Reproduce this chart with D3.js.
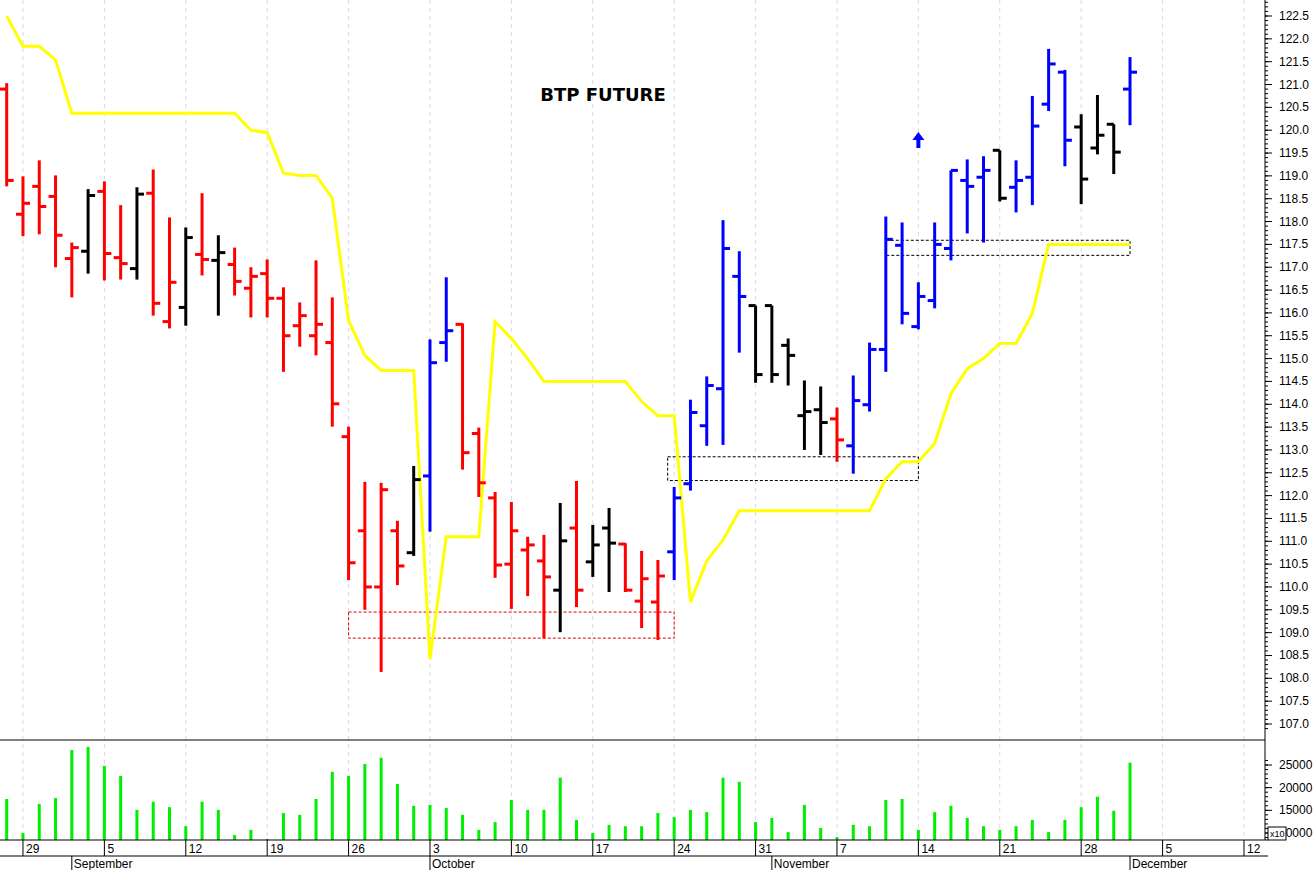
<!DOCTYPE html>
<html>
<head>
<meta charset="utf-8">
<script src="https://cdn.jsdelivr.net/npm/d3@7"></script>
<style>
  body { margin: 0; background: #fff; }
  svg { display: block; font-family: "Liberation Sans", Arial, sans-serif; }
</style>
</head>
<body>
<svg id="chart" width="1316" height="870"></svg>
<script>
// BTP future, daily bars 26 Aug - 1 Dec 2022
const opens  = [120.90,118.16,118.77,118.55,117.19,117.35,118.66,117.21,116.97,118.62,115.81,116.12,117.28,117.15,117.06,116.54,116.86,116.32,115.72,115.50,115.35,113.29,111.23,110.00,111.23,110.75,112.43,115.35,115.75,113.36,111.95,110.50,110.81,110.57,109.93,111.29,110.55,111.29,110.94,109.69,109.67,110.77,112.26,113.53,114.34,116.80,116.16,116.16,115.29,113.75,113.88,113.68,113.09,113.99,115.20,117.48,115.70,116.27,117.41,118.90,118.97,119.56,118.75,118.97,120.57,121.27,120.07,119.61,120.13,120.90];
const highs  = [121.03,118.99,119.34,119.01,117.54,118.71,118.88,118.36,118.75,119.14,118.09,117.87,118.62,117.70,117.43,117.00,117.17,116.56,116.23,117.15,116.34,113.51,112.30,112.28,111.45,112.65,115.42,116.78,115.77,113.49,112.08,111.86,111.10,111.14,111.84,112.32,111.36,111.73,110.96,110.79,110.59,112.19,114.10,114.61,118.03,117.35,116.16,116.16,115.44,114.52,114.39,113.93,114.63,115.35,118.11,117.98,116.67,117.98,119.12,119.36,119.43,119.56,119.34,120.75,121.78,121.32,120.35,120.77,120.13,121.60];
const lows   = [118.77,117.68,117.72,117.00,116.34,116.86,116.71,116.73,116.73,115.94,115.66,115.72,116.82,115.94,116.38,115.90,115.90,114.71,115.26,115.07,113.51,110.15,109.50,108.14,110.04,110.68,111.21,114.93,112.57,111.97,110.20,109.52,109.80,108.88,109.01,109.56,110.22,109.89,109.89,109.10,108.84,110.15,112.11,113.09,113.11,115.13,114.47,114.47,114.41,113.00,112.89,112.74,112.48,113.84,114.71,115.75,115.64,116.10,117.15,117.74,117.54,118.44,118.20,118.36,120.42,119.21,118.38,119.47,119.04,120.11];
const closes = [118.90,118.40,118.33,117.70,117.43,118.57,117.30,117.08,118.60,116.21,116.67,117.65,117.17,117.32,116.69,116.80,116.32,115.50,115.94,115.75,114.01,110.53,110.00,112.13,110.46,112.35,114.91,115.61,112.94,112.28,110.48,111.23,110.92,110.22,111.01,109.93,110.92,110.96,109.93,110.18,110.24,111.95,113.82,114.41,117.41,116.36,114.65,114.65,115.07,113.84,113.60,113.22,114.08,115.20,117.61,115.99,116.36,117.50,119.12,118.77,119.12,118.51,118.90,120.09,121.45,119.78,118.93,119.89,119.52,121.27];
// bar colour code: r = red, k = black, b = blue
const barColor = "rrrrrkrrkrrkrkrrrrrrrrrrrkbbrrrrrrkrkkrrrbbbbbkkkkkrbbbbbbbbbkbbbbkkkb";
const trendLine = [122.50,121.84,121.84,121.54,120.37,120.37,120.37,120.37,120.37,120.37,120.37,120.37,120.37,120.37,120.37,120.00,119.95,119.06,119.01,119.01,118.51,115.83,115.07,114.74,114.74,114.74,108.42,111.10,111.10,111.10,115.81,115.44,115.00,114.50,114.50,114.50,114.50,114.50,114.50,114.06,113.75,113.75,109.67,110.57,111.03,111.67,111.67,111.67,111.67,111.67,111.67,111.67,111.67,111.67,112.37,112.74,112.74,113.14,114.23,114.78,115.00,115.33,115.33,115.99,117.50,117.50,117.50,117.50,117.50,117.50];
const volumes = [17500,10000,16400,17700,28300,29000,24800,22600,15100,16900,15700,11500,16900,15100,9550,10700,8700,14400,14000,17500,23500,22600,25200,26600,20800,16000,16200,15500,14000,10700,12400,17300,15100,15100,22200,12900,10000,11800,11500,11500,14400,13500,15100,14600,22200,21300,12400,13300,10200,16200,11100,9100,11800,11500,17300,17500,10700,14600,16000,13300,11500,10700,11500,12900,10200,12900,15700,18000,14900,25500];
// dashed zones: [first bar, last bar, top, bottom, colour]
const zones = [[21, 41, 109.45, 108.88, "#e00000"], [40.6, 56, 112.85, 112.33, "#000"], [54, 69, 117.59, 117.26, "#000"]];
const priceTicks = d3.range(107, 122.51, 0.5);
const volTicks = [10000, 15000, 20000, 25000];

// trading calendar (weekdays) 26 Aug - 16 Dec 2022
const days = d3.timeDay.range(new Date(2022, 7, 26), new Date(2022, 11, 17))
  .filter(d => d.getDay() > 0 && d.getDay() < 6);

const svg = d3.select("#chart");
const axisX = 1265, priceBottom = 740, volBottom = 840;

const x = d3.scaleLinear().domain([0, 75]).range([6.7, 6.7 + 75 * 16.28]);
const y = d3.scaleLinear().domain([107, 122.5]).range([724, 16]);
const yv = d3.scaleLinear().domain([10000, 25000]).range([833, 765]);

// vertical week grid
const mondays = days.map((d, i) => ({ d, i })).filter(o => o.d.getDay() === 1);
svg.append("g").selectAll("line").data(mondays).join("line")
  .attr("x1", o => x(o.i)).attr("x2", o => x(o.i))
  .attr("y1", 0).attr("y2", volBottom)
  .attr("stroke", "#d8d8ea").attr("stroke-dasharray", "4,4");

// dashed zones
svg.append("g").selectAll("rect").data(zones).join("rect")
  .attr("x", z => x(z[0])).attr("width", z => x(z[1]) - x(z[0]))
  .attr("y", z => y(z[2])).attr("height", z => y(z[3]) - y(z[2]))
  .attr("fill", "none").attr("stroke", z => z[4]).attr("stroke-dasharray", "3,2");

// trend line
svg.append("path").datum(trendLine)
  .attr("d", d3.line().x((d, i) => x(i)).y(d => y(d)))
  .attr("fill", "none").attr("stroke", "#ffff00").attr("stroke-width", 3);

// OHLC bars
const colorMap = { r: "#ff0000", k: "#000000", b: "#0000ff" };
const bars = svg.append("g").selectAll("g").data(opens).join("g")
  .attr("stroke", (d, i) => colorMap[barColor[i]]).attr("stroke-width", 3);
bars.append("line")
  .attr("x1", (d, i) => x(i)).attr("x2", (d, i) => x(i))
  .attr("y1", (d, i) => y(highs[i])).attr("y2", (d, i) => y(lows[i]));
bars.append("line")
  .attr("x1", (d, i) => x(i) - 7).attr("x2", (d, i) => x(i))
  .attr("y1", d => y(d)).attr("y2", d => y(d));
bars.append("line")
  .attr("x1", (d, i) => x(i)).attr("x2", (d, i) => x(i) + 7)
  .attr("y1", (d, i) => y(closes[i])).attr("y2", (d, i) => y(closes[i]));

// volume
svg.append("g").selectAll("line").data(volumes).join("line")
  .attr("x1", (d, i) => x(i)).attr("x2", (d, i) => x(i))
  .attr("y1", d => yv(d)).attr("y2", volBottom)
  .attr("stroke", "#00ee00").attr("stroke-width", 3);

// title and arrow
svg.append("text").attr("x", 603).attr("y", 101).attr("text-anchor", "middle")
  .attr("font-size", 18).attr("font-weight", "bold").attr("font-family", "'DejaVu Sans', sans-serif")
  .text("BTP FUTURE");
const ax = x(56), ay = 140;
svg.append("path")
  .attr("d", `M${ax},${ay - 8}L${ax + 6},${ay}L${ax + 2},${ay}L${ax + 2},${ay + 8}L${ax - 2},${ay + 8}L${ax - 2},${ay}L${ax - 6},${ay}Z`)
  .attr("fill", "#0000ff");

// frame lines
svg.append("line").attr("x1", 0).attr("x2", axisX).attr("y1", priceBottom).attr("y2", priceBottom).attr("stroke", "#000");
svg.append("line").attr("x1", axisX).attr("x2", axisX).attr("y1", 0).attr("y2", volBottom).attr("stroke", "#000");
svg.append("line").attr("x1", 0).attr("x2", axisX + 3).attr("y1", volBottom).attr("y2", volBottom).attr("stroke", "#000");
svg.append("line").attr("x1", 0).attr("x2", axisX + 3).attr("y1", 856).attr("y2", 856).attr("stroke", "#000");

// price axis
const py = svg.append("g").attr("transform", `translate(${axisX},0)`);
py.selectAll("line.minor").data(d3.range(106.9, 122.85, 0.1)).join("line")
  .attr("x1", 0).attr("x2", 3).attr("y1", d => y(d)).attr("y2", d => y(d)).attr("stroke", "#000");
py.selectAll("line.major").data(priceTicks).join("line")
  .attr("x1", 0).attr("x2", 7).attr("y1", d => y(d)).attr("y2", d => y(d)).attr("stroke", "#000");
py.selectAll("text").data(priceTicks).join("text")
  .attr("x", 14).attr("y", d => y(d) + 4).attr("font-size", 12).text(d => d.toFixed(1));

// volume axis
const vy = svg.append("g").attr("transform", `translate(${axisX},0)`);
vy.selectAll("line.minor").data(d3.range(9000, 27000, 1000)).join("line")
  .attr("x1", 0).attr("x2", 3).attr("y1", d => yv(d)).attr("y2", d => yv(d)).attr("stroke", "#000")
  .filter(d => yv(d) <= priceBottom).remove();
vy.selectAll("line.major").data(volTicks).join("line")
  .attr("x1", 0).attr("x2", 7).attr("y1", d => yv(d)).attr("y2", d => yv(d)).attr("stroke", "#000");
vy.selectAll("text").data(volTicks).join("text")
  .attr("x", 14).attr("y", d => yv(d) + 4).attr("font-size", 12).text(d => d);
vy.append("rect").attr("x", 3).attr("y", 827).attr("width", 18).attr("height", 13)
  .attr("fill", "#fff").attr("stroke", "#000");
vy.append("text").attr("x", 5).attr("y", 837).attr("font-size", 9).text("x10");

// date axis
const dg = svg.append("g");
dg.selectAll("line").data(mondays).join("line")
  .attr("x1", o => x(o.i)).attr("x2", o => x(o.i)).attr("y1", volBottom).attr("y2", 856).attr("stroke", "#000");
dg.selectAll("text").data(mondays).join("text")
  .attr("x", o => x(o.i) + 3).attr("y", 853).attr("font-size", 12).text(o => o.d.getDate());

const monthStarts = days.map((d, i) => ({ d, i })).filter((o, k) => k > 0 && o.d.getMonth() !== days[k - 1].getMonth());
const mg = svg.append("g");
mg.selectAll("line").data(monthStarts).join("line")
  .attr("x1", o => x(o.i)).attr("x2", o => x(o.i)).attr("y1", 856).attr("y2", 870).attr("stroke", "#000");
mg.selectAll("text").data(monthStarts).join("text")
  .attr("x", o => x(o.i) + 2).attr("y", 868).attr("font-size", 12)
  .text(o => d3.timeFormat("%B")(o.d));
</script>
</body>
</html>
